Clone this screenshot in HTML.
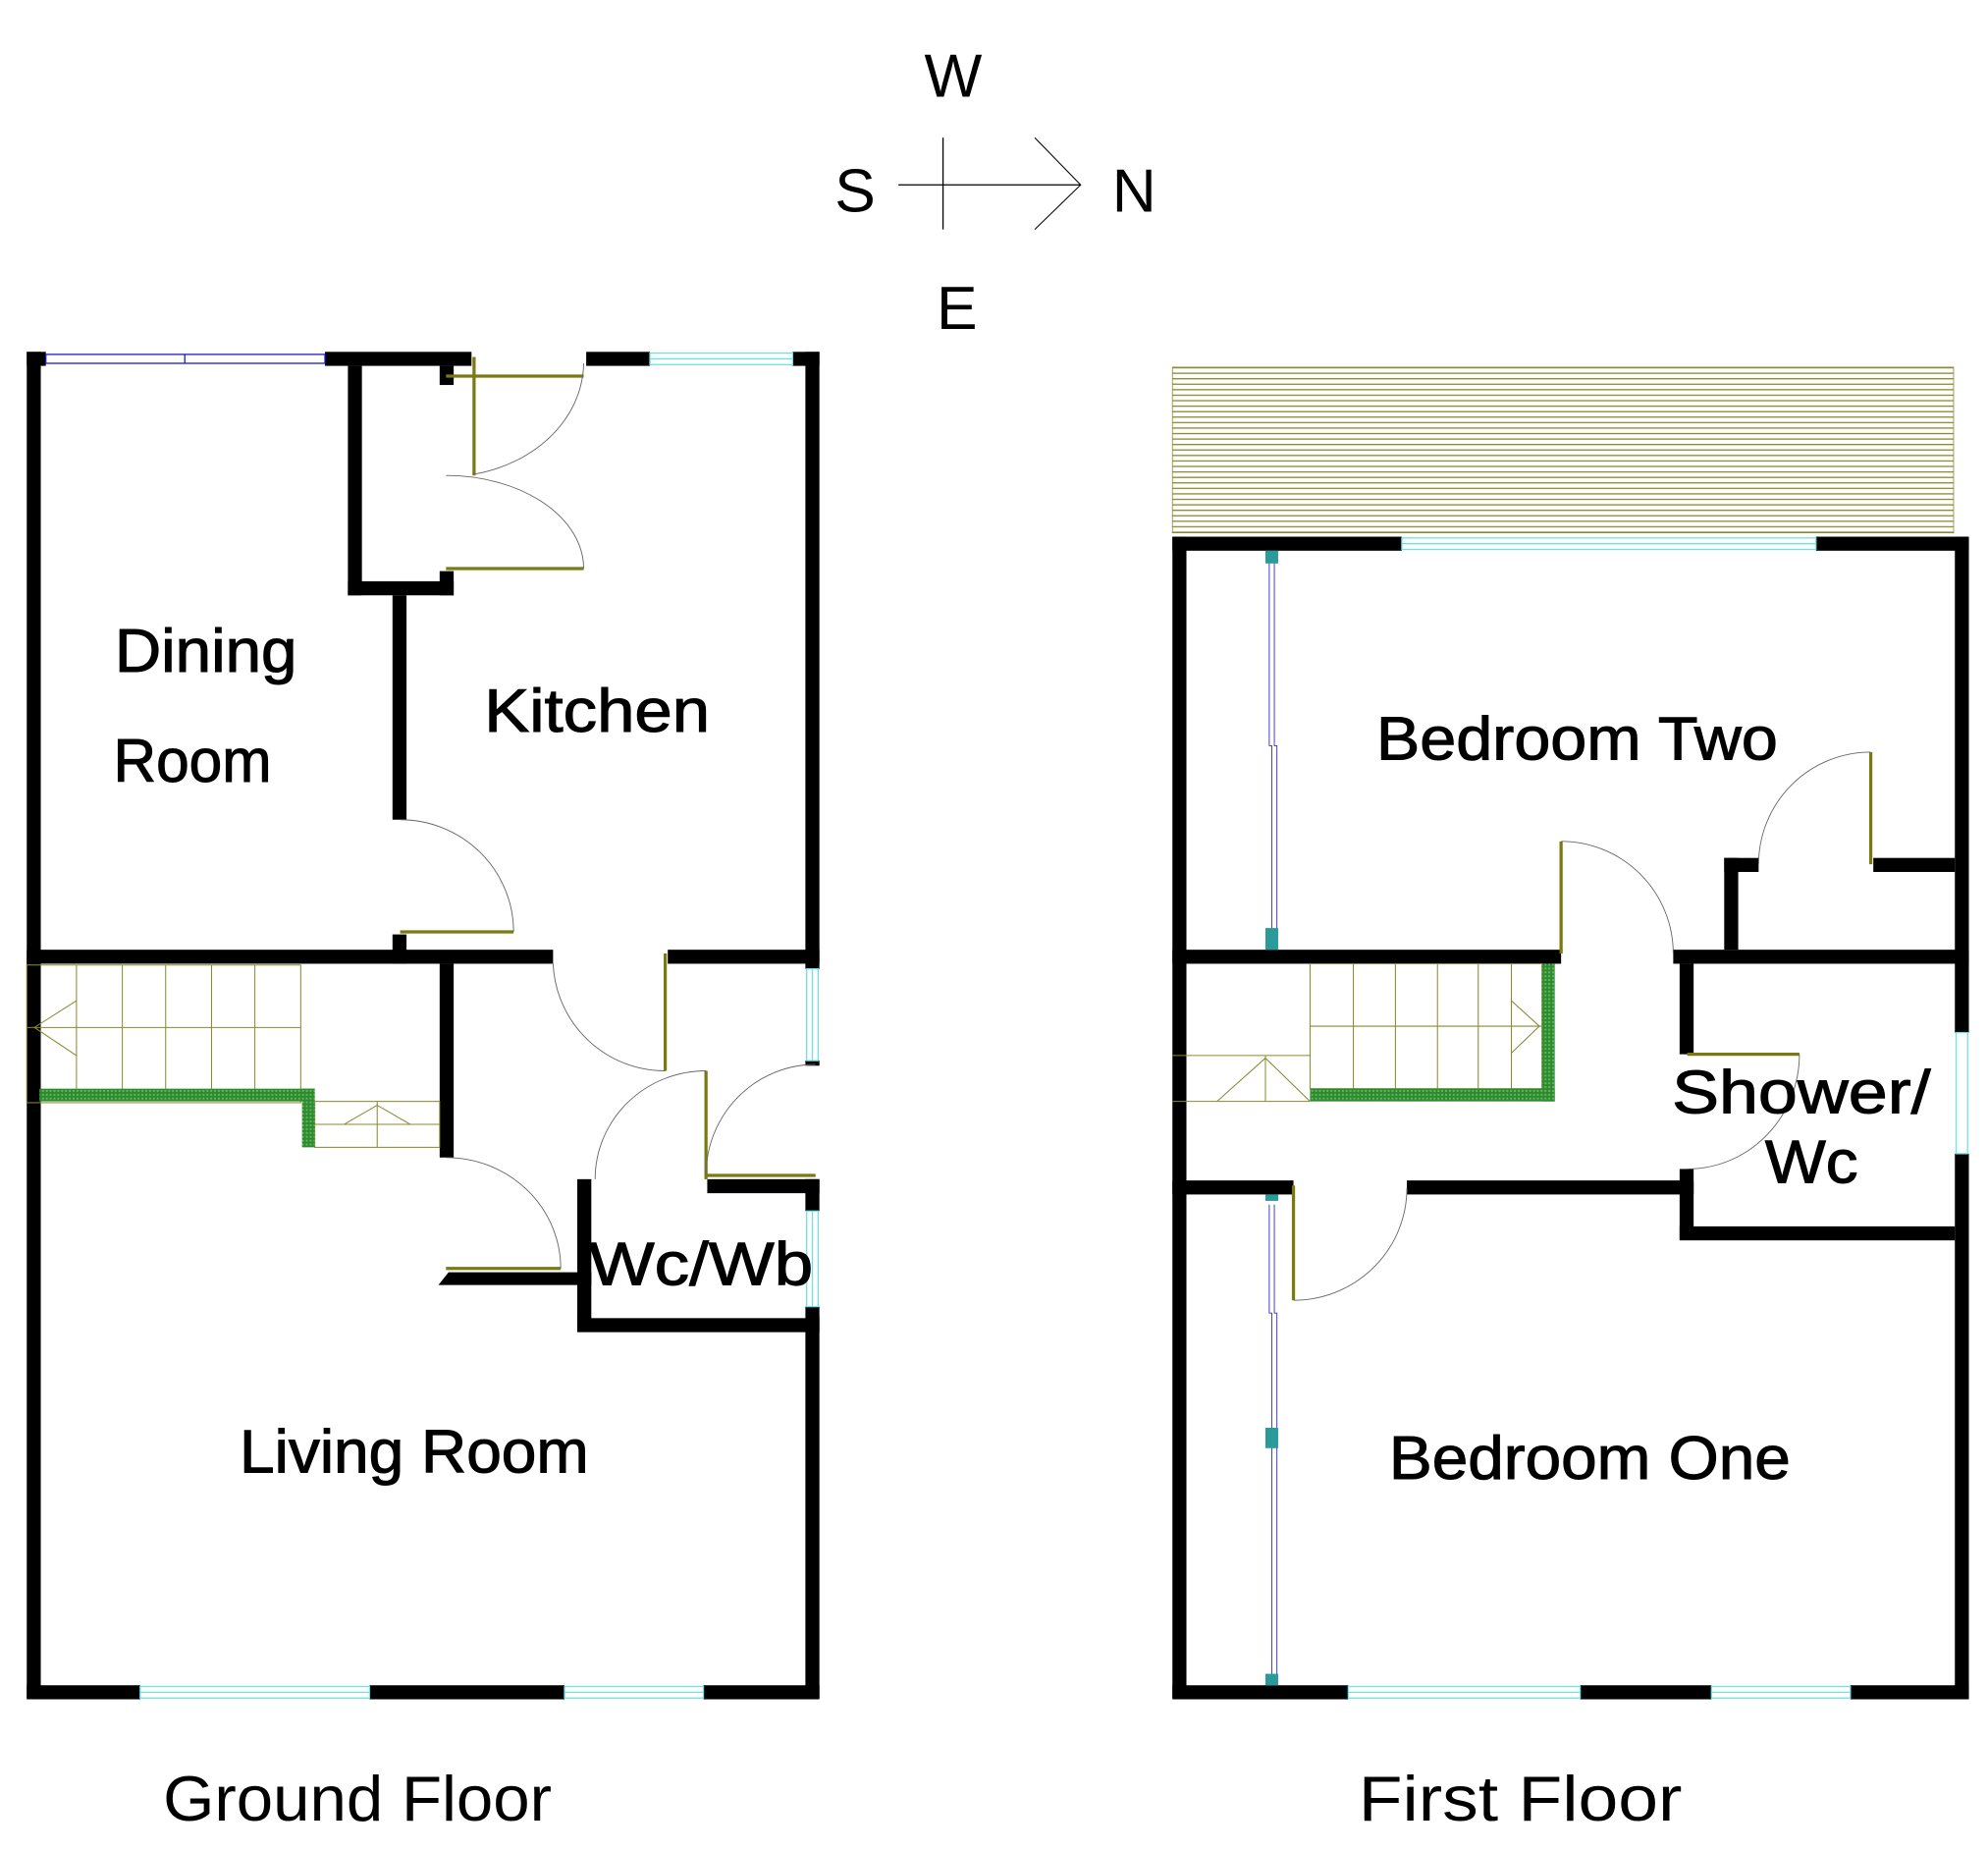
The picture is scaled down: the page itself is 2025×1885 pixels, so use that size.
<!DOCTYPE html>
<html><head><meta charset="utf-8"><style>html,body{margin:0;padding:0;background:#fff}svg{display:block}</style></head>
<body>
<svg width="2025" height="1885" viewBox="0 0 1560 1452" preserveAspectRatio="none" xmlns="http://www.w3.org/2000/svg" font-family="Liberation Sans, sans-serif">
<defs>
<pattern id="bal" x="0" y="288" width="10" height="4.3" patternUnits="userSpaceOnUse"><rect x="0" y="0" width="10" height="1" fill="#8a8a30"/></pattern>
<pattern id="hatch" width="3" height="3" patternUnits="userSpaceOnUse"><rect width="3" height="3" fill="#2f8a2f"/><rect width="1.5" height="1.5" fill="#5fb85f"/></pattern>
</defs>
<rect width="1560" height="1452" fill="#fff"/>
<g font-size="48" fill="#000" text-anchor="middle">
<text x="748" y="76">W</text><text x="671" y="166">S</text><text x="890" y="166">N</text><text x="751" y="258">E</text>
</g>
<g stroke="#000" stroke-width="1" fill="none">
<line x1="740" y1="108" x2="740" y2="180"/><line x1="705" y1="145" x2="848" y2="145"/>
<polyline points="812,108 848,145 812,180" stroke-width="0.8"/>
</g>
<g fill="#000">
<rect x="21" y="276" width="11" height="1056"/>
<rect x="21" y="276" width="15" height="11"/>
<rect x="255" y="276" width="115" height="11"/>
<rect x="273" y="287" width="11" height="180"/>
<rect x="273" y="456" width="83" height="11"/>
<rect x="345" y="287" width="11" height="15"/>
<rect x="345" y="448" width="11" height="19"/>
<rect x="460" y="276" width="50" height="11"/>
<rect x="622" y="276" width="21" height="11"/>
<rect x="632" y="276" width="11" height="484"/>
<rect x="632" y="832" width="11" height="4"/>
<rect x="308" y="467" width="11" height="176"/>
<rect x="308" y="733" width="11" height="23"/>
<rect x="21" y="745" width="413" height="11"/>
<rect x="524" y="745" width="119" height="11"/>
<rect x="345" y="756" width="11" height="152"/>
<rect x="453" y="925" width="11" height="119"/>
<rect x="555" y="925" width="88" height="11"/>
<rect x="632" y="925" width="11" height="25"/>
<rect x="453" y="1034" width="190" height="11"/>
<rect x="632" y="1025" width="11" height="307"/>
<polygon points="352,998 464,998 464,1008 344,1008"/>
<rect x="21" y="1322" width="89" height="11"/>
<rect x="290" y="1322" width="153" height="11"/>
<rect x="552" y="1322" width="91" height="11"/>
</g>
<g fill="none" stroke-width="1">
<g stroke="#1a1ad0"><rect x="36" y="278" width="219" height="7"/><line x1="145" y1="278" x2="145" y2="285"/></g>
<g stroke="#6fe0e8"><rect x="510" y="277" width="112" height="9"/><line x1="510" y1="281.5" x2="622" y2="281.5"/>
<rect x="633" y="760" width="9" height="72"/><line x1="637.5" y1="760" x2="637.5" y2="832"/>
<rect x="633" y="950" width="9" height="75"/><line x1="637.5" y1="950" x2="637.5" y2="1025"/>
<rect x="110" y="1323" width="180" height="9"/><line x1="110" y1="1327.5" x2="290" y2="1327.5"/>
<rect x="443" y="1323" width="109" height="9"/><line x1="443" y1="1327.5" x2="552" y2="1327.5"/></g>
</g>
<g stroke="#7a7a10" stroke-width="2.5" fill="none">
<line x1="350" y1="295" x2="458" y2="295"/><line x1="372" y1="280" x2="372" y2="373"/>
<line x1="350" y1="446" x2="458" y2="446"/>
<line x1="314" y1="731" x2="403" y2="731"/>
<line x1="522" y1="748" x2="522" y2="840"/>
<line x1="554" y1="840" x2="554" y2="925"/>
<line x1="554" y1="922" x2="640" y2="922"/>
<line x1="350" y1="995" x2="440" y2="995"/>
</g>
<g stroke="#666" stroke-width="0.7" fill="none">
<path d="M458,285 A108,90 0 0 1 372,372"/>
<path d="M350,373 A108,73 0 0 1 458,446"/>
<path d="M314,643 A89,88 0 0 1 403,731"/>
<path d="M434,756 A88,88 0 0 0 522,840"/>
<path d="M554,840 A87,85 0 0 0 467,925"/>
<path d="M640,835 A86,87 0 0 0 554,922"/>
<path d="M350,908 A90,87 0 0 1 440,995"/>
</g>
<g stroke="#8a8a30" stroke-width="0.8" fill="none">
<rect x="21" y="757" width="215" height="108"/>
<line x1="21" y1="806" x2="236" y2="806"/>
<line x1="60" y1="757" x2="60" y2="854"/><line x1="96" y1="757" x2="96" y2="854"/><line x1="130" y1="757" x2="130" y2="854"/><line x1="166" y1="757" x2="166" y2="854"/><line x1="200" y1="757" x2="200" y2="854"/>
<polyline points="60,785 27,806 60,828"/>
<rect x="247" y="864" width="98" height="36"/>
<line x1="247" y1="882" x2="345" y2="882"/><line x1="296" y1="864" x2="296" y2="900"/>
<polyline points="270,882 296,867 322,882"/>
</g>
<rect x="31" y="854" width="216" height="10" fill="url(#hatch)"/>
<rect x="237" y="854" width="10" height="46" fill="url(#hatch)"/>
<rect x="920" y="288" width="613" height="130" fill="url(#bal)" stroke="#8a8a30" stroke-width="0.6"/>
<g fill="#000">
<rect x="920" y="421" width="11" height="911"/>
<rect x="920" y="421" width="180" height="11"/>
<rect x="1425" y="421" width="120" height="11"/>
<rect x="1534" y="421" width="11" height="389"/>
<rect x="1534" y="905" width="11" height="427"/>
<rect x="920" y="1322" width="138" height="11"/>
<rect x="1240" y="1322" width="103" height="11"/>
<rect x="1452" y="1322" width="93" height="11"/>
<rect x="920" y="745" width="305" height="11"/>
<rect x="1313" y="745" width="232" height="11"/>
<rect x="1353" y="673" width="11" height="72"/>
<rect x="1353" y="673" width="27" height="11"/>
<rect x="1470" y="673" width="64" height="11"/>
<rect x="1318" y="756" width="11" height="71"/>
<rect x="1318" y="917" width="11" height="55"/>
<rect x="1318" y="962" width="216" height="11"/>
<rect x="920" y="926" width="95" height="11"/>
<rect x="1104" y="926" width="225" height="11"/>
</g>
<g fill="none" stroke-width="1">
<g stroke="#6fe0e8"><rect x="1100" y="422" width="325" height="9"/><line x1="1100" y1="426.5" x2="1425" y2="426.5"/>
<rect x="1535" y="810" width="9" height="95"/>
<rect x="1058" y="1323" width="182" height="9"/><line x1="1058" y1="1327.5" x2="1240" y2="1327.5"/>
<rect x="1343" y="1323" width="109" height="9"/><line x1="1343" y1="1327.5" x2="1452" y2="1327.5"/></g>
<g stroke="#3030d0" stroke-width="0.7"><polyline points="996,440 996,585 998,585 998,730"/><polyline points="1000,440 1000,585 1002,585 1002,730"/>
<polyline points="996,945 996,1030 998,1030 998,1315"/><polyline points="1000,945 1000,1030 1002,1030 1002,1315"/></g>
</g>
<g fill="#2a9a9a"><rect x="993" y="432" width="10" height="10"/><rect x="993" y="728" width="10" height="17"/><rect x="993" y="937" width="10" height="5"/><rect x="993" y="1120" width="10" height="16"/><rect x="993" y="1313" width="10" height="9"/></g>
<g stroke="#7a7a10" stroke-width="2.5" fill="none">
<line x1="1468" y1="590" x2="1468" y2="678"/>
<line x1="1225" y1="660" x2="1225" y2="748"/>
<line x1="1324" y1="827" x2="1412" y2="827"/>
<line x1="1015" y1="930" x2="1015" y2="1020"/>
</g>
<g stroke="#666" stroke-width="0.7" fill="none">
<path d="M1468,590 A88,88 0 0 0 1380,678"/>
<path d="M1225,660 A88,88 0 0 1 1313,748"/>
<path d="M1412,827 A88,90 0 0 1 1324,917"/>
<path d="M1104,932 A89,88 0 0 1 1015,1020"/>
</g>
<g stroke="#8a8a30" stroke-width="0.8" fill="none">
<rect x="1028" y="756" width="182" height="98"/>
<line x1="1028" y1="805" x2="1210" y2="805"/>
<line x1="1062" y1="756" x2="1062" y2="854"/><line x1="1095" y1="756" x2="1095" y2="854"/><line x1="1128" y1="756" x2="1128" y2="854"/><line x1="1160" y1="756" x2="1160" y2="854"/><line x1="1186" y1="756" x2="1186" y2="854"/>
<polyline points="1186,785 1208,805 1186,826"/>
<line x1="920" y1="828" x2="1028" y2="828"/><line x1="920" y1="864" x2="1028" y2="864"/><line x1="993" y1="828" x2="993" y2="864"/>
<polyline points="955,864 993,830 1028,864"/>
</g>
<rect x="1028" y="854" width="192" height="10" fill="url(#hatch)"/>
<rect x="1210" y="756" width="10" height="108" fill="url(#hatch)"/>
<g font-size="48" fill="#000" stroke="#000" stroke-width="0.8" lengthAdjust="spacingAndGlyphs">
<text x="90" y="527" textLength="143" lengthAdjust="spacingAndGlyphs">Dining</text>
<text x="89" y="613" textLength="124" lengthAdjust="spacingAndGlyphs">Room</text>
<text x="380" y="574" textLength="177" lengthAdjust="spacingAndGlyphs">Kitchen</text>
<text x="462" y="1008" textLength="176" lengthAdjust="spacingAndGlyphs">Wc/Wb</text>
<text x="188" y="1155" textLength="274" lengthAdjust="spacingAndGlyphs">Living Room</text>
<text x="1080" y="596" textLength="315" lengthAdjust="spacingAndGlyphs">Bedroom Two</text>
<text x="1312" y="873" textLength="203" lengthAdjust="spacingAndGlyphs">Shower/</text>
<text x="1385" y="928" textLength="73" lengthAdjust="spacingAndGlyphs">Wc</text>
<text x="1090" y="1160" textLength="315" lengthAdjust="spacingAndGlyphs">Bedroom One</text>
</g>
<g font-size="50" fill="#000">
<text x="128" y="1428" textLength="305" lengthAdjust="spacingAndGlyphs">Ground Floor</text>
<text x="1066" y="1428" textLength="254" lengthAdjust="spacingAndGlyphs">First Floor</text>
</g>
</svg>
</body></html>
